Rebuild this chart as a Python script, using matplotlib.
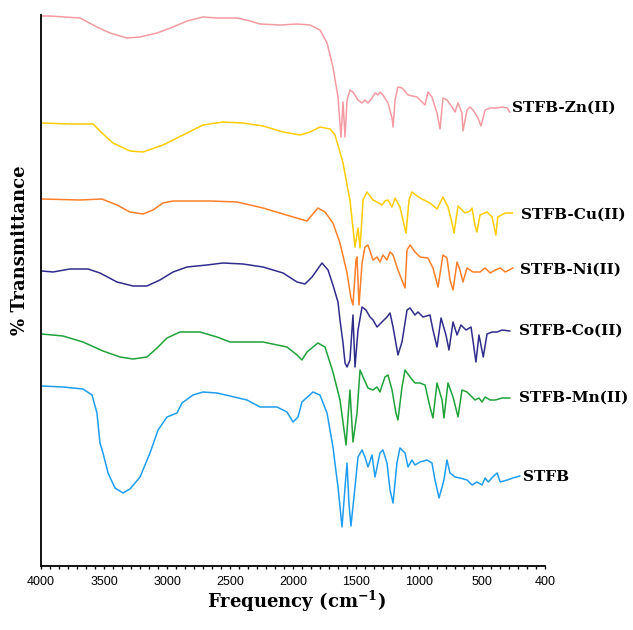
import numpy as np
import matplotlib
matplotlib.use("Agg")
import matplotlib.pyplot as plt
from matplotlib.ticker import FixedLocator, NullLocator

# axis labels as printed (evenly spaced on the original, not linear)
tick_vals = [4000, 3500, 3000, 2500, 2000, 1500, 1000, 500, 400]

# spectra, wavenumber (cm-1) vs transmittance (arbitrary offset units)
zn_wn = [3992, 3929, 3690, 3556, 3452, 3317, 3214, 3079, 2952, 2841, 2714, 2603, 2444, 2341, 2262,
         2103, 1968, 1865, 1786, 1730, 1683, 1643, 1619, 1603, 1587, 1571, 1548, 1524, 1484, 1452,
         1429, 1405, 1373, 1349, 1325, 1310, 1286, 1246, 1214, 1206, 1190, 1167, 1135, 1087, 1016,
         976, 952, 929, 897, 857, 833, 810, 778, 738, 714, 690, 659, 651, 619, 595, 571, 532, 508,
         495, 487, 476, 468, 460, 456]
zn_t = [550, 550, 548, 539, 533, 528, 529, 533, 539, 545, 549, 548, 548, 545, 542,
        541, 542, 541, 536, 523, 499, 469, 429, 464, 429, 466, 476, 474, 466, 463,
        466, 463, 468, 473, 471, 474, 471, 463, 448, 439, 466, 479, 478, 471, 469,
        464, 461, 474, 469, 453, 437, 468, 466, 459, 454, 463, 453, 435, 456, 459,
        456, 448, 440, 456, 458, 458, 459, 458, 454]

cu_wn = [3992, 3770, 3587, 3516, 3429, 3294, 3190, 3032, 2873, 2714, 2556, 2397, 2238, 2079, 1944,
         1865, 1786, 1706, 1667, 1643, 1603, 1571, 1548, 1524, 1508, 1484, 1468, 1444, 1413, 1365,
         1333, 1294, 1270, 1246, 1214, 1190, 1151, 1127, 1103, 1079, 1056, 992, 913, 857, 810,
         770, 738, 722, 690, 635, 595, 579, 556, 540, 516, 492, 484, 478, 475, 463, 452]
cu_t = [443, 442, 442, 433, 423, 415, 414, 421, 431, 441, 444, 443, 440, 434, 431,
        434, 439, 437, 431, 421, 403, 381, 366, 338, 319, 338, 318, 366, 374, 366,
        364, 361, 365, 366, 359, 368, 359, 346, 333, 366, 374, 368, 363, 357, 369,
        359, 343, 333, 360, 353, 355, 358, 341, 334, 351, 354, 349, 331, 349, 353, 353]

ni_wn = [3992, 3690, 3516, 3397, 3294, 3190, 3111, 3032, 2952, 2659, 2444, 2238, 2079, 1944, 1889,
         1849, 1802, 1746, 1683, 1627, 1571, 1540, 1524, 1500, 1492, 1476, 1452, 1429, 1405, 1365,
         1333, 1310, 1286, 1254, 1230, 1206, 1167, 1111, 1095, 1071, 1032, 992, 929, 889, 849,
         810, 778, 754, 730, 698, 675, 651, 619, 571, 516, 495, 487, 479, 471, 463, 451]
ni_t = [367, 366, 367, 361, 354, 352, 356, 363, 365, 365, 364, 358, 352, 347, 345,
        351, 358, 354, 343, 323, 293, 268, 261, 306, 309, 261, 303, 319, 321, 306,
        309, 304, 311, 306, 314, 311, 296, 278, 316, 321, 314, 309, 308, 298, 279,
        311, 308, 286, 276, 304, 296, 284, 298, 294, 294, 298, 293, 296, 298, 294, 298]

co_wn = [3992, 3905, 3770, 3627, 3532, 3397, 3270, 3159, 3056, 2952, 2841, 2683, 2556, 2397, 2238,
         2079, 1968, 1905, 1849, 1770, 1722, 1683, 1643, 1627, 1603, 1587, 1571, 1548, 1524, 1508,
         1484, 1452, 1421, 1389, 1365, 1333, 1294, 1254, 1230, 1206, 1167, 1135, 1095, 1071, 1032,
         1008, 968, 913, 889, 857, 825, 786, 762, 730, 698, 667, 627, 587, 548, 524, 498, 492,
         484, 476, 468, 456]
co_t = [295, 294, 297, 297, 293, 284, 280, 280, 286, 294, 299, 301, 303, 302, 299,
        293, 284, 282, 289, 303, 296, 281, 264, 246, 223, 203, 199, 206, 251, 199,
        236, 259, 256, 249, 246, 239, 244, 249, 253, 239, 211, 224, 256, 258, 251,
        254, 249, 251, 236, 219, 248, 231, 216, 244, 231, 241, 236, 239, 204, 231, 209, 232,
        234, 234, 236, 235]

mn_wn = [3992, 3825, 3667, 3508, 3373, 3270, 3159, 3079, 3000, 2897, 2738, 2603, 2500, 2238, 2048,
         1968, 1929, 1889, 1802, 1746, 1683, 1627, 1579, 1548, 1524, 1492, 1468, 1444, 1405, 1365,
         1333, 1310, 1270, 1246, 1214, 1183, 1167, 1135, 1111, 1071, 1032, 992, 952, 913, 889,
         857, 817, 802, 770, 730, 690, 659, 619, 579, 556, 524, 500, 495, 487, 479, 468, 456]
mn_t = [232, 230, 224, 215, 209, 207, 209, 218, 228, 234, 234, 229, 224, 224, 219,
        211, 206, 214, 223, 219, 194, 166, 121, 176, 124, 153, 196, 189, 178, 176,
        179, 174, 189, 191, 176, 153, 146, 179, 196, 189, 183, 183, 181, 159, 148,
        183, 166, 148, 183, 169, 149, 176, 174, 169, 166, 168, 164, 169, 166, 166, 168, 168]

stfb_wn = [3992, 3825, 3667, 3595, 3556, 3532, 3508, 3468, 3413, 3349, 3294, 3214, 3135, 3071, 3000,
           2921, 2881, 2794, 2714, 2603, 2500, 2365, 2262, 2127, 2048, 2000, 1960, 1929, 1841, 1786,
           1730, 1683, 1643, 1611, 1587, 1571, 1556, 1540, 1508, 1484, 1452, 1429, 1405, 1373, 1349,
           1310, 1286, 1254, 1230, 1206, 1175, 1151, 1111, 1087, 1056, 1032, 992, 937, 897, 873,
           841, 802, 778, 754, 714, 675, 619, 579, 540, 500, 495, 490, 483, 476, 471, 460, 451, 440]
stfb_t = [180, 179, 177, 171, 153, 123, 113, 93, 78, 73, 77, 89, 113, 136, 149,
          153, 163, 171, 174, 173, 170, 166, 159, 159, 154, 144, 149, 164, 174, 171,
          153, 119, 79, 39, 79, 103, 63, 40, 79, 109, 116, 109, 99, 111, 89,
          113, 116, 103, 76, 63, 103, 118, 113, 99, 106, 101, 104, 106, 103, 86,
          68, 86, 106, 93, 89, 88, 86, 81, 84, 81, 88, 84, 89, 93, 84, 86, 88, 90]

names = ["STFB-Zn(II)", "STFB-Cu(II)", "STFB-Ni(II)", "STFB-Co(II)", "STFB-Mn(II)", "STFB"]
series = [(zn_wn, zn_t), (cu_wn, cu_t), (ni_wn, ni_t), (co_wn, co_t), (mn_wn, mn_t), (stfb_wn, stfb_t)]
colors = ["#F49AA3", "#FFCC00", "#FF7F2A", "#302C8C", "#1FA23A", "#1E9DF0"]
label_offsets = [(2, 3), (6, -1), (5, -1), (7, 0.5), (7, 0), (2, -0.5)]

# piecewise scale so each printed label is evenly spaced
vals_asc = tick_vals[::-1]
pos_asc = list(range(len(vals_asc)))


def fwd(w):
    return np.interp(w, vals_asc, pos_asc)


def inv(p):
    return np.interp(p, pos_asc, vals_asc)


plt.rcParams["mathtext.fontset"] = "dejavuserif"

fig = plt.figure(figsize=(6.33, 6.30), dpi=100)
ax = fig.add_axes([41 / 633, 64 / 630, 504 / 633, 551 / 630])
ax.set_xscale("function", functions=(fwd, inv))

for (wn, t), c in zip(series, colors):
    ax.plot(wn, t, color=c, lw=1.1, solid_joinstyle="round")

for (wn, t), name, off in zip(series, names, label_offsets):
    ax.annotate(name, xy=(wn[-1], t[-1]), xytext=off, textcoords="offset points",
                ha="left", va="center", fontsize=11, fontweight="bold",
                family="DejaVu Serif", annotation_clip=False)

ax.set_xlim(4000, 400)
ax.set_ylim(0, 551)
ax.xaxis.set_major_locator(FixedLocator(tick_vals))
ax.set_xticklabels([str(v) for v in tick_vals], family="Liberation Sans", fontsize=9)
ax.xaxis.set_minor_locator(FixedLocator(inv(np.arange(0, 8.001, 1 / 7))))
ax.tick_params(axis="x", which="both", direction="out", length=2.5, width=1, pad=5)
ax.yaxis.set_major_locator(NullLocator())
for s in ["top", "right"]:
    ax.spines[s].set_visible(False)
for s in ["left", "bottom"]:
    ax.spines[s].set_linewidth(1.3)

fig.text(296 / 633, 1 - 601 / 630, r"Frequency (cm$^{\mathbf{-1}}$)", ha="center", va="center",
         fontsize=13, fontweight="bold", family="DejaVu Serif")
fig.text(20 / 633, 1 - 250 / 630, "% Transmittance", ha="center", va="center", rotation=90,
         fontsize=13, fontweight="bold", family="DejaVu Serif")

fig.savefig("out.png", dpi=100)
